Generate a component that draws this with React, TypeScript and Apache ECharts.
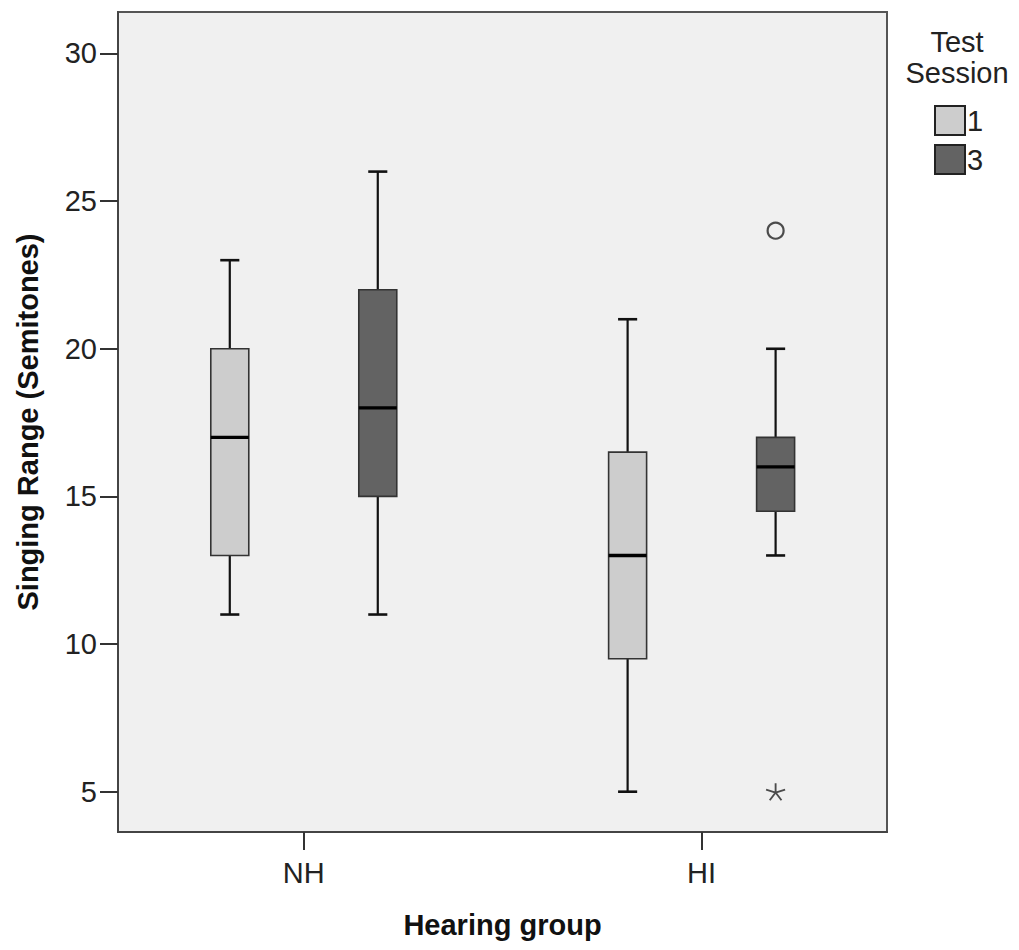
import React, { useEffect, useRef } from "react";
import * as echarts from "echarts";

const groups = ["NH", "HI"];
const sessions = ["1", "3"];
// [low whisker, Q1, median, Q3, high whisker] per group, per session
const session1Stats = [
  [11, 13, 17, 20, 23],
  [5, 9.5, 13, 16.5, 21],
];
const session3Stats = [
  [11, 15, 18, 22, 26],
  [13, 14.5, 16, 17, 20],
];
// outliers: [groupIndex, sessionIndex, value]
const mildOutliers = [[1, 1, 24]];
const extremeOutliers = [[1, 1, 5]];
const yTicks = [5, 10, 15, 20, 25, 30];

const sessionColors = ["#cdcdcd", "#636363"];
const sessionOffset = [-0.186, 0.186];
const BOX_W = 0.0955;
const CAP_W = 0.048;

const FONT = "'Liberation Sans', Arial, sans-serif";

function boxData(stats: number[][], s: number) {
  return stats.map((st, g) => [g + 1 + sessionOffset[s], ...st]);
}

function renderBox(params: any, api: any) {
  const x = api.value(0);
  const low = api.coord([x, api.value(1)]);
  const q1 = api.coord([x, api.value(2)]);
  const med = api.coord([x, api.value(3)]);
  const q3 = api.coord([x, api.value(4)]);
  const high = api.coord([x, api.value(5)]);
  const bw = api.size([BOX_W, 0])[0];
  const cw = api.size([CAP_W, 0])[0];
  const cx = low[0];
  const color = api.visual("color");
  const wStyle = { stroke: "#111", lineWidth: 2.2 };
  return {
    type: "group",
    children: [
      { type: "line", shape: { x1: cx, y1: low[1], x2: cx, y2: q1[1] }, style: wStyle },
      { type: "line", shape: { x1: cx, y1: q3[1], x2: cx, y2: high[1] }, style: wStyle },
      { type: "line", shape: { x1: cx - cw / 2, y1: low[1], x2: cx + cw / 2, y2: low[1] }, style: { stroke: "#111", lineWidth: 2.6 } },
      { type: "line", shape: { x1: cx - cw / 2, y1: high[1], x2: cx + cw / 2, y2: high[1] }, style: { stroke: "#111", lineWidth: 2.6 } },
      {
        type: "rect",
        shape: { x: cx - bw / 2, y: q3[1], width: bw, height: q1[1] - q3[1] },
        style: { fill: color, stroke: "#333", lineWidth: 1.6 },
      },
      { type: "line", shape: { x1: cx - bw / 2, y1: med[1], x2: cx + bw / 2, y2: med[1] }, style: { stroke: "#000", lineWidth: 3.4 } },
    ],
  };
}

const asteriskPath =
  "path://M0,-10L0,0M9.51,-3.09L0,0M5.88,8.09L0,0M-5.88,8.09L0,0M-9.51,-3.09L0,0";

export default function App() {
  const ref = useRef<HTMLDivElement>(null);
  useEffect(() => {
    if (!ref.current) return;
    const chart = echarts.init(ref.current, undefined, { renderer: "svg" });
    const toXY = (o: number[]) => [o[0] + 1 + sessionOffset[o[1]], o[2]];
    chart.setOption({
      animation: false,
      backgroundColor: "#ffffff",
      textStyle: { fontFamily: FONT },
      grid: {
        left: 118,
        top: 12,
        width: 769,
        height: 820,
        show: true,
        backgroundColor: "#f0f0f0",
        borderColor: "#555",
        borderWidth: 2,
      },
      legend: {
        orient: "vertical",
        left: 929,
        top: 100,
        itemWidth: 30,
        itemHeight: 29,
        itemGap: 8,
        icon: "rect",
        selectedMode: false,
        textStyle: { fontSize: 29, color: "#222", fontFamily: FONT, padding: [0, 0, 0, -3] },
        data: sessions.map((s, i) => ({
          name: s,
          itemStyle: { color: sessionColors[i], borderColor: "#222", borderWidth: 2 },
        })),
      },
      graphic: [
        {
          type: "text",
          x: 957,
          y: 26,
          style: {
            text: "Test\nSession",
            fontSize: 29,
            lineHeight: 31,
            fontFamily: FONT,
            fill: "#222",
            align: "center",
          },
        },
      ],
      xAxis: {
        type: "value",
        min: 0.533,
        max: 2.466,
        name: "Hearing group",
        nameLocation: "middle",
        nameGap: 78,
        nameTextStyle: { fontSize: 29, fontWeight: "bold", color: "#111", fontFamily: FONT },
        axisLine: { show: true, lineStyle: { color: "#444", width: 2 } },
        axisTick: { show: true, length: 18, lineStyle: { color: "#333", width: 2 }, customValues: [1, 2] },
        axisLabel: {
          fontSize: 29,
          color: "#222",
          margin: 26,
          customValues: [1, 2],
          formatter: (v: number) => groups[Math.round(v) - 1] ?? "",
        },
        splitLine: { show: false },
      },
      yAxis: {
        type: "value",
        min: 3.635,
        max: 31.405,
        name: "Singing Range (Semitones)",
        nameLocation: "middle",
        nameGap: 76,
        nameTextStyle: { fontSize: 29, fontWeight: "bold", color: "#111", fontFamily: FONT },
        axisLine: { show: true, lineStyle: { color: "#444", width: 2 } },
        axisTick: { show: true, length: 18, lineStyle: { color: "#333", width: 2 }, customValues: yTicks },
        axisLabel: { fontSize: 29, color: "#222", margin: 21, customValues: yTicks },
        splitLine: { show: false },
      },
      series: [
        {
          type: "custom",
          name: sessions[0],
          renderItem: renderBox,
          itemStyle: { color: sessionColors[0] },
          encode: { x: 0, y: [1, 2, 3, 4, 5] },
          data: boxData(session1Stats, 0),
          z: 3,
        },
        {
          type: "custom",
          name: sessions[1],
          renderItem: renderBox,
          itemStyle: { color: sessionColors[1] },
          encode: { x: 0, y: [1, 2, 3, 4, 5] },
          data: boxData(session3Stats, 1),
          z: 3,
        },
        {
          type: "scatter",
          name: "mild",
          symbol: "circle",
          symbolSize: 16,
          itemStyle: { color: "transparent", borderColor: "#222", borderWidth: 2.2 },
          data: mildOutliers.map(toXY),
          z: 4,
        },
        {
          type: "scatter",
          name: "extreme",
          symbol: asteriskPath,
          symbolSize: [19, 18],
          symbolKeepAspect: true,
          itemStyle: { color: "transparent", borderColor: "#222", borderWidth: 1.8 },
          data: extremeOutliers.map(toXY),
          z: 4,
        },
      ],
    });
    return () => chart.dispose();
  }, []);
  return (
    <div
      ref={ref}
      style={{ position: "absolute", left: 0, top: 0, width: 1019, height: 950 }}
    />
  );
}
